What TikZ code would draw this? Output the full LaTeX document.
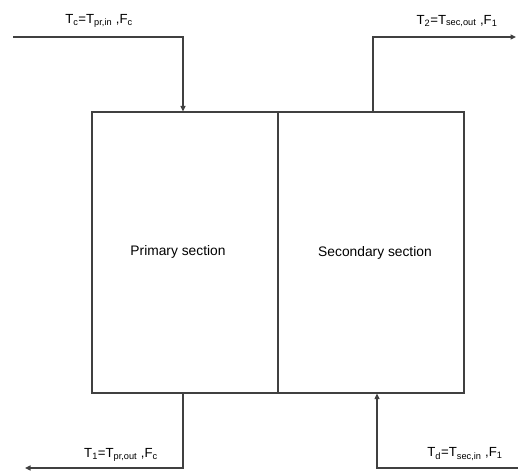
\documentclass[tikz,border=0pt]{standalone}
\usepackage{fontspec}
\setmainfont{Liberation Sans}
\usetikzlibrary{arrows.meta}
\begin{document}
\begin{tikzpicture}[x=1pt,y=-1pt,
  line/.style={draw=black!75, line width=1.2pt},
  flow/.style={line, -{Triangle[length=5.5pt,width=5pt]}},
  sect/.style={line, rectangle, minimum width=186pt, minimum height=281pt, inner sep=0pt, font=\fontsize{13.8}{16}\selectfont},
  lbl/.style={font=\fontsize{13.2}{15}\selectfont, inner sep=0pt}]
\useasboundingbox (0,0) rectangle (518,472);
\node[sect] (prim) at (185,252.5) {\raisebox{5pt}{\hspace*{-14pt}Primary section}};
\node[sect] (sec) at (371,252.5) {\raisebox{3pt}{\hspace*{8pt}Secondary section}};
% inlet primary
\coordinate (inA) at (13,37);
\draw[flow] (inA) -| (prim.north -| 183,0);
% outlet secondary
\coordinate (outB) at (516,37);
\draw[flow] (sec.north -| 373,0) |- (outB);
% outlet primary
\coordinate (outA) at (25,468);
\draw[flow] (prim.south -| 183,0) |- (outA);
% inlet secondary
\coordinate (inB) at (518,468);
\draw[flow] (inB) -| (sec.south -| 377,0);
\node[lbl] (la) at (99,21) {T\textsubscript{c}=T\textsubscript{pr,in} ,F\textsubscript{c}};
\node[lbl] (lb) at (457,21) {T\textsubscript{2}=T\textsubscript{sec,out} ,F\textsubscript{1}};
\node[lbl] (lc) at (121,455) {T\textsubscript{1}=T\textsubscript{pr,out} ,F\textsubscript{c}};
\node[lbl] (ld) at (465,454) {T\textsubscript{d}=T\textsubscript{sec,in} ,F\textsubscript{1}};
\end{tikzpicture}
\end{document}
